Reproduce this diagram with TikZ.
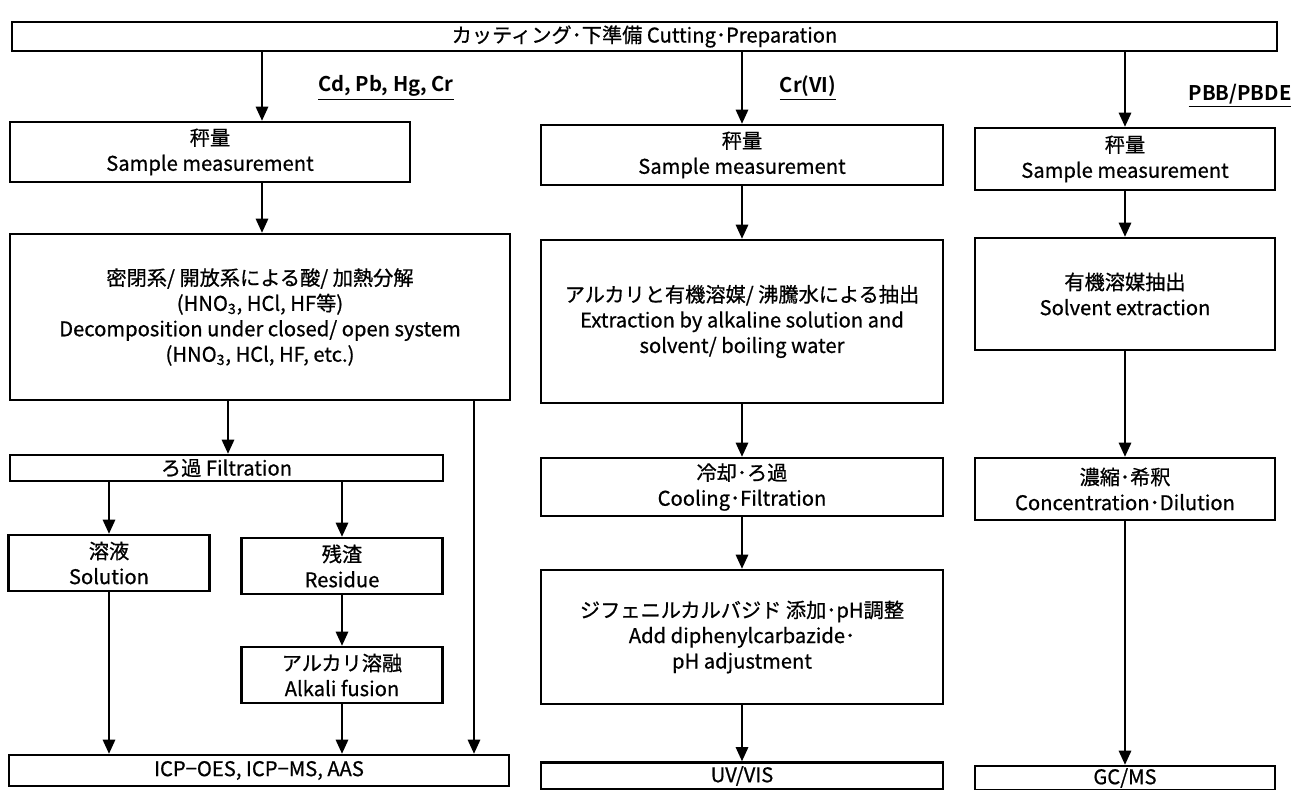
\documentclass[tikz,border=0pt]{standalone}
\usepackage{fontspec}
\setmainfont{Noto Sans CJK JP}[FakeBold=0.7, BoldFont={Noto Sans CJK JP Bold}, BoldFeatures={FakeBold=0}]
\usetikzlibrary{arrows.meta}

\tikzset{
  caja/.style={draw, line width=1.4pt, inner sep=0pt, align=center,
    font=\fontsize{11.5}{14.5}\selectfont},
  flecha/.style={line width=1.1pt, -{Triangle[length=8pt,width=7pt]}},
  etiqueta/.style={font=\fontsize{11.5}{14}\selectfont\bfseries}
}

\begin{document}
\begin{tikzpicture}[x=0.02cm,y=-0.02cm]
        \useasboundingbox (0,0) rectangle (1294,790);

        % Caja superior
        \node[caja, minimum width=25.3cm, minimum height=0.58cm] (corte) at (644.5,36.5) {カッティング･下準備 Cutting･Preparation};

        % Columnas
        \coordinate (colA) at (262,0);
        \coordinate (colF) at (228,0);
        \coordinate (colR) at (474,0);

        % Etiquetas de columnas
        \node[etiqueta] (lblA) at (386,88) {\underline{Cd, Pb, Hg, Cr}};
        \node[etiqueta] (lblB) at (808,88) {\underline{Cr(VI)}};
        \node[etiqueta] (lblC) at (1240,96) {\underline{PBB/PBDE}};

        % Columna izquierda
        \node[caja, minimum width=8cm, minimum height=1.2cm] (pesoA) at (210,152) {秤量\\Sample measurement};
        \node[caja, minimum width=10cm, minimum height=3.32cm] (digest) at (260,317) {密閉系/ 開放系による酸/ 加熱分解\\(HNO\textsubscript{3}, HCl, HF等)\\Decomposition under closed/ open system\\(HNO\textsubscript{3}, HCl, HF, etc.)};
        \node[caja, minimum width=8.66cm, minimum height=0.52cm] (filtro) at (226.5,468) {ろ過 Filtration};
        \node[caja, minimum width=4.02cm, minimum height=1.12cm] (solucion) at (109,563) {溶液\\Solution};
        \node[caja, minimum width=4.02cm, minimum height=1.12cm] (residuo) at (342,566) {残渣\\Residue};
        \node[caja, minimum width=4.02cm, minimum height=1.12cm] (fusion) at (342,675) {アルカリ溶融\\Alkali fusion};
        \node[caja, minimum width=10cm, minimum height=0.62cm] (icp) at (259,770.5) {ICP−OES, ICP−MS, AAS};

        % Columna central
        \node[caja, minimum width=8.04cm, minimum height=1.2cm] (pesoB) at (742,155) {秤量\\Sample measurement};
        \node[caja, minimum width=8.04cm, minimum height=3.26cm] (extracB) at (742,321.5) {アルカリと有機溶媒/ 沸騰水による抽出\\Extraction by alkaline solution and\\solvent/ boiling water};
        \node[caja, minimum width=8.04cm, minimum height=1.16cm] (enfriar) at (742,487) {冷却･ろ過\\Cooling･Filtration};
        \node[caja, minimum width=8.04cm, minimum height=2.68cm] (ajuste) at (742,637) {ジフェニルカルバジド 添加･pH調整\\Add diphenylcarbazide･\\pH adjustment};
        \node[caja, minimum width=8.04cm, minimum height=0.54cm] (uvvis) at (742,776) {UV/VIS};

        % Columna derecha
        \node[caja, minimum width=6cm, minimum height=1.24cm] (pesoC) at (1125,159) {秤量\\Sample measurement};
        \node[caja, minimum width=6cm, minimum height=2.24cm] (extracC) at (1125,294) {有機溶媒抽出\\Solvent extraction};
        \node[caja, minimum width=6cm, minimum height=1.24cm] (concen) at (1125,489) {濃縮･希釈\\Concentration･Dilution};
        \node[caja, minimum width=6cm, minimum height=0.48cm] (gcms) at (1125,778) {GC/MS};

        % Flechas izquierda
        \draw[flecha] (corte.south -| colA) -- (pesoA.north -| colA);
        \draw[flecha] (pesoA.south -| colA) -- (digest.north -| colA);
        \draw[flecha] (digest.south -| colF) -- (filtro.north -| colF);
        \draw[flecha] (digest.south -| colR) -- (icp.north -| colR);
        \draw[flecha] (filtro.south -| solucion) -- (solucion.north);
        \draw[flecha] (filtro.south -| residuo) -- (residuo.north);
        \draw[flecha] (residuo) -- (fusion);
        \draw[flecha] (solucion.south) -- (icp.north -| solucion);
        \draw[flecha] (fusion.south) -- (icp.north -| fusion);

        % Flechas centro
        \draw[flecha] (corte.south -| pesoB) -- (pesoB.north);
        \draw[flecha] (pesoB) -- (extracB);
        \draw[flecha] (extracB) -- (enfriar);
        \draw[flecha] (enfriar) -- (ajuste);
        \draw[flecha] (ajuste) -- (uvvis);

        % Flechas derecha
        \draw[flecha] (corte.south -| pesoC) -- (pesoC.north);
        \draw[flecha] (pesoC) -- (extracC);
        \draw[flecha] (extracC) -- (concen);
        \draw[flecha] (concen) -- (gcms);
    \end{tikzpicture}
\end{document}
